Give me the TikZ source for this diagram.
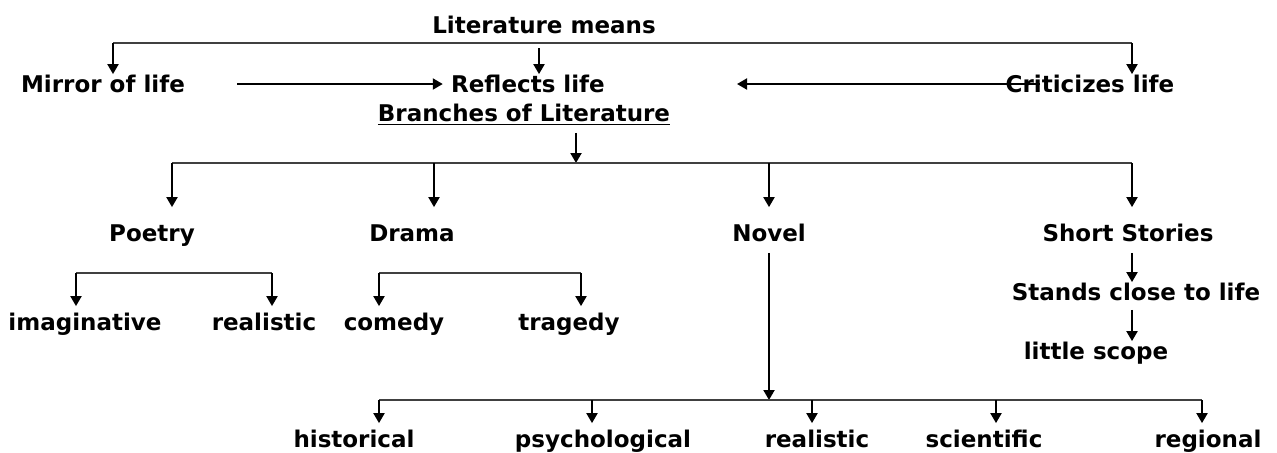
\documentclass[tikz,border=0pt]{standalone}
\usepackage{fontspec}
\setmainfont{DejaVu Sans}
\usepackage{xcolor}
\usetikzlibrary{positioning,arrows.meta,calc}

\begin{document}
\begin{tikzpicture}[x=0.5pt, y=-0.5pt,
  lbl/.style={font=\bfseries\fontsize{11.5}{13}\selectfont, inner sep=1pt,
    text height=8pt, text depth=2.5pt, yshift=-1.5pt},
  bar/.style={line width=0.6pt, black!75},
  arr/.style={line width=1pt, -{Triangle[length=5pt,width=5.5pt]}}]
  % canvas: 1 unit = 1 px of the 1277x452 sheet
  \useasboundingbox (0,0) rectangle (1277,452);
  % top: what literature means
  \node[lbl] (means) at (544,25) {Literature means};
  \node[lbl] (mirror) at (103,84) {Mirror of life};
  \node[lbl] (reflects) at (528,84) {Reflects life};
  \node[lbl] (criticizes) at (1090,84) {Criticizes life};
  \coordinate (topl) at (113,43);
  \coordinate (topr) at (1132,43);
  \coordinate (topm) at (539,48);
  \draw[bar] (topl) -- (topr);
  \draw[arr] (topl) -- (topl |- mirror.north);
  \draw[arr] (topm) -- (topm |- reflects.north);
  \draw[arr] (topr) -- (topr |- criticizes.north);
  % side arrows into "Reflects life"
  \coordinate (mirrorout) at (237,84);
  \draw[arr, shorten >=3pt] (mirrorout) -- (mirrorout -| reflects.west);
  \coordinate (critout) at (1040,84);
  \coordinate (critin) at (737,84);
  \draw[arr] (critout) -- (critin);
  % branches
  \node[lbl] (branches) at (524,113) {\underline{Branches of Literature}};
  \coordinate (brbar) at (576,163);
  \draw[arr] ([yshift=-2pt]branches.south -| brbar) -- (brbar);
  \node[lbl] (poetry) at (152,233) {Poetry};
  \node[lbl] (drama) at (412,233) {Drama};
  \node[lbl] (novel) at (769,233) {Novel};
  \node[lbl] (short) at (1128,233) {Short Stories};
  \coordinate (bpo) at (172,163);
  \coordinate (bdr) at (434,163);
  \coordinate (bno) at (769,163);
  \coordinate (bsh) at (1132,163);
  \draw[bar] (bpo) -- (bsh);
  \draw[arr, shorten >=8pt] (bpo) -- (bpo |- poetry.north);
  \draw[arr, shorten >=8pt] (bdr) -- (bdr |- drama.north);
  \draw[arr, shorten >=8pt] (bno) -- (bno |- novel.north);
  \draw[arr, shorten >=8pt] (bsh) -- (bsh |- short.north);
  % poetry
  \node[lbl] (imag) at (85,322) {imaginative};
  \node[lbl] (preal) at (264,322) {realistic};
  \coordinate (pol) at (76,273);
  \coordinate (por) at (272,273);
  \draw[bar] (pol) -- (por);
  \draw[arr, shorten >=3pt] (pol) -- (pol |- imag.north);
  \draw[arr, shorten >=3pt] (por) -- (por |- preal.north);
  % drama
  \node[lbl] (comedy) at (394,322) {comedy};
  \node[lbl] (tragedy) at (569,322) {tragedy};
  \coordinate (drl) at (379,273);
  \coordinate (drr) at (581,273);
  \draw[bar] (drl) -- (drr);
  \draw[arr, shorten >=3pt] (drl) -- (drl |- comedy.north);
  \draw[arr, shorten >=3pt] (drr) -- (drr |- tragedy.north);
  % short stories
  \node[lbl] (close) at (1136,292) {Stands close to life};
  \node[lbl] (scope) at (1096,351) {little scope};
  \draw[arr] ([yshift=-2pt]short.south -| bsh) -- (bsh |- close.north);
  \draw[arr] ([yshift=-1pt]close.south -| bsh) -- (bsh |- scope.north);
  % novel
  \node[lbl] (hist) at (354,439) {historical};
  \node[lbl] (psych) at (603,439) {psychological};
  \node[lbl] (nreal) at (817,439) {realistic};
  \node[lbl] (scient) at (984,439) {scientific};
  \node[lbl] (region) at (1208,439) {regional};
  \coordinate (nbar) at (769,400);
  \coordinate (nhi) at (379,400);
  \coordinate (nps) at (592,400);
  \coordinate (nre) at (812,400);
  \coordinate (nsc) at (996,400);
  \coordinate (nrg) at (1202,400);
  \draw[arr] ([yshift=-2pt]novel.south) -- (nbar);
  \draw[bar] (nhi) -- (nrg);
  \draw[arr, shorten >=3pt] (nhi) -- (nhi |- hist.north);
  \draw[arr, shorten >=3pt] (nps) -- (nps |- psych.north);
  \draw[arr, shorten >=3pt] (nre) -- (nre |- nreal.north);
  \draw[arr, shorten >=3pt] (nsc) -- (nsc |- scient.north);
  \draw[arr, shorten >=3pt] (nrg) -- (nrg |- region.north);
\end{tikzpicture}
\end{document}
